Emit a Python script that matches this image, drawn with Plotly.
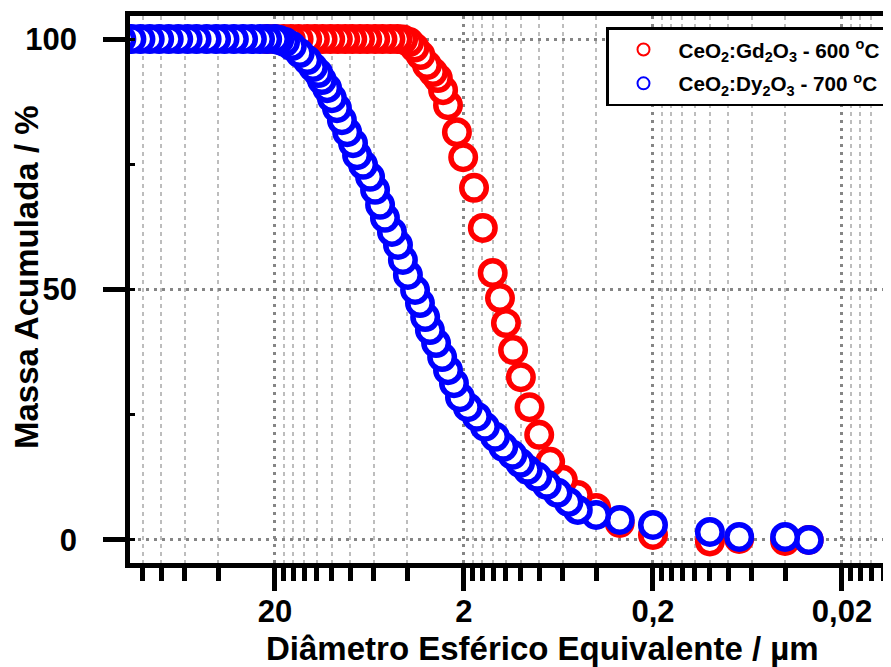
import numpy as np
import plotly.graph_objects as go

# ---- data ----
# CeO2:Gd2O3 - 600 °C  (diameter in µm, cumulative mass in %)
gd_diam = [22, 20, 18, 16.5, 15, 13.5, 12.3, 11.2, 10.2, 9.3, 8.5, 7.8, 7.1, 6.5,
           5.9, 5.4, 4.9, 4.5, 4.2, 3.9, 3.65, 3.4, 3.14, 2.92, 2.75, 2.58, 2.43,
           2.18, 2.02, 1.77, 1.59, 1.41, 1.29, 1.2, 1.1, 1.0, 0.9, 0.8, 0.7, 0.6,
           0.5, 0.4, 0.3, 0.2, 0.1, 0.07, 0.04, 0.03]
gd_mass = [100, 100, 100, 100, 100, 100, 100, 100, 100, 100, 100, 100, 100, 100,
           100, 100, 100, 100, 99.9, 99.4, 98.3, 96.8, 94.8, 93.4, 92.2, 89.8, 86.8,
           81.4, 76.4, 70.3, 62.3, 53.3, 48.3, 43.3, 37.9, 32.5, 26.5, 21.0, 15.6, 12.0,
           9.0, 6.4, 3.4, 1.0, -0.3, 0.2, -0.2, 0.0]

# CeO2:Dy2O3 - 700 °C
dy_diam = [130, 115, 103, 92, 82, 73, 65, 58, 52, 46, 41, 37, 33, 29.5, 26.5, 24,
           22, 20, 19, 17.7, 16.3, 14.8, 13.5, 12.6, 11.8, 11.3, 10.6, 10.0, 9.4,
           8.85, 8.3, 7.73, 7.36, 6.84, 6.28, 5.91, 5.56, 5.24, 4.81, 4.47, 4.21,
           3.96, 3.63, 3.42, 3.21, 3.03, 2.81, 2.61, 2.43, 2.26, 2.10, 1.91, 1.71,
           1.55, 1.37, 1.24, 1.11, 1.01, 0.92, 0.82, 0.73, 0.64, 0.56, 0.50, 0.40,
           0.30, 0.20, 0.10, 0.07, 0.04, 0.03]
dy_mass = [100, 100, 100, 100, 100, 100, 100, 100, 100, 100, 100, 100, 100, 100, 100, 100,
           100, 100, 99.8, 99.4, 98.6, 97.2, 95.8, 94.4, 93.2, 91.8, 90.2, 88.2, 86.2,
           83.8, 81.4, 79.2, 76.8, 74.9, 72.5, 69.9, 66.9, 64.3, 61.5, 58.9, 55.9,
           52.9, 49.9, 47.3, 44.5, 41.9, 39.3, 36.5, 33.9, 31.3, 28.5, 26.5, 24.6,
           22.6, 20.6, 18.6, 17.0, 15.4, 14.0, 12.6, 11.0, 9.4, 7.6, 6.0, 5.0,
           4.0, 3.0, 1.6, 0.6, 0.6, 0.0]

x_tick_vals = [20, 2, 0.2, 0.02]
x_tick_text = ["20", "2", "0,2", "0,02"]
x_minor_vals = [120, 100, 80, 60, 40,
                18, 16, 14, 12, 10, 8, 6, 4,
                1.8, 1.6, 1.4, 1.2, 1.0, 0.8, 0.6, 0.4,
                0.18, 0.16, 0.14, 0.12, 0.10, 0.08, 0.06, 0.04,
                0.018, 0.016, 0.014, 0.012]
y_tick_vals = [0, 50, 100]

names = ["CeO<sub>2</sub>:Gd<sub>2</sub>O<sub>3</sub> - 600 <sup>o</sup>C",
         "CeO<sub>2</sub>:Dy<sub>2</sub>O<sub>3</sub> - 700 <sup>o</sup>C"]
colors = ["#ff0000", "#0000ff"]
x_title = "Diâmetro Esférico Equivalente / µm"
y_title = "Massa Acumulada / %"

FONT = "Liberation Sans, Arial, sans-serif"

# plot area in figure pixels
PL, PR, PT, PB = 122, 891, 8, 555
W, H = 891, 667


def px(fx):
    return (fx - PL) / (PR - PL)


def py(fy):
    return (PB - fy) / (PB - PT)


fig = go.Figure()
for i, (xs, ys, nm, col) in enumerate([(gd_diam, gd_mass, names[0], colors[0]),
                                       (dy_diam, dy_mass, names[1], colors[1])]):
    fig.add_trace(go.Scatter(
        x=xs[::-1], y=ys[::-1], mode="markers", name=nm, legendgroup=f"g{i}",
        marker=dict(symbol="circle", size=24.5, color="white",
                    line=dict(color=col, width=5.5)),
    ))

grid_major = dict(showgrid=True, gridcolor="#858585", gridwidth=2.5, griddash="3px,5px")

fig.update_xaxes(
    type="log", range=[2.0682, -2.0006], automargin=False,
    tickmode="array", tickvals=x_tick_vals, ticktext=x_tick_text,
    ticks="outside", ticklen=23, tickwidth=4.5, tickcolor="black",
    showline=True, linewidth=4.5, linecolor="black", mirror=True,
    tickfont=dict(family=FONT, size=31, color="black", weight="bold"),
    ticklabelstandoff=-6,
    minor=dict(tickmode="array", tickvals=x_minor_vals, ticks="outside",
               ticklen=13, tickwidth=4.5, tickcolor="black",
               showgrid=True, gridcolor="#bdbdbd", gridwidth=2, griddash="4px,4px"),
    zeroline=False, **grid_major,
)
fig.update_yaxes(
    range=[-4.6, 104.6], tickmode="array", tickvals=y_tick_vals, automargin=False,
    ticks="outside", ticklen=22, tickwidth=4.5, tickcolor="black",
    showline=True, linewidth=4.5, linecolor="black", mirror=False,
    tickfont=dict(family=FONT, size=31, color="black", weight="bold"),
    ticklabelstandoff=20,
    minor=dict(dtick=25, tick0=0, ticks="inside", ticklen=5, tickwidth=3,
               tickcolor="black", showgrid=False),
    zeroline=False, **grid_major,
)
title_font = dict(family=FONT, size=33, color="black", weight="bold")
fig.add_annotation(text=x_title, xref="paper", yref="paper",
                   x=px(534), y=py(640),
                   xanchor="center", yanchor="middle", showarrow=False, font=title_font)
fig.add_annotation(text=y_title, xref="paper", yref="paper", textangle=-90,
                   x=px(18), y=py(269),
                   xanchor="center", yanchor="middle", showarrow=False, font=title_font)
fig.update_layout(
    width=W, height=H,
    margin=dict(l=PL, r=W - PR, t=PT, b=H - PB),
    paper_bgcolor="white", plot_bgcolor="white",
    showlegend=True,
    legend=dict(x=px(879), y=py(19), xanchor="right", yanchor="top",
                bgcolor="white", bordercolor="black", borderwidth=2.5,
                itemsizing="constant", itemwidth=60, tracegroupgap=4,
                font=dict(family=FONT, size=20.7, color="black", weight="bold")),
)
fig.write_html("out.html")
